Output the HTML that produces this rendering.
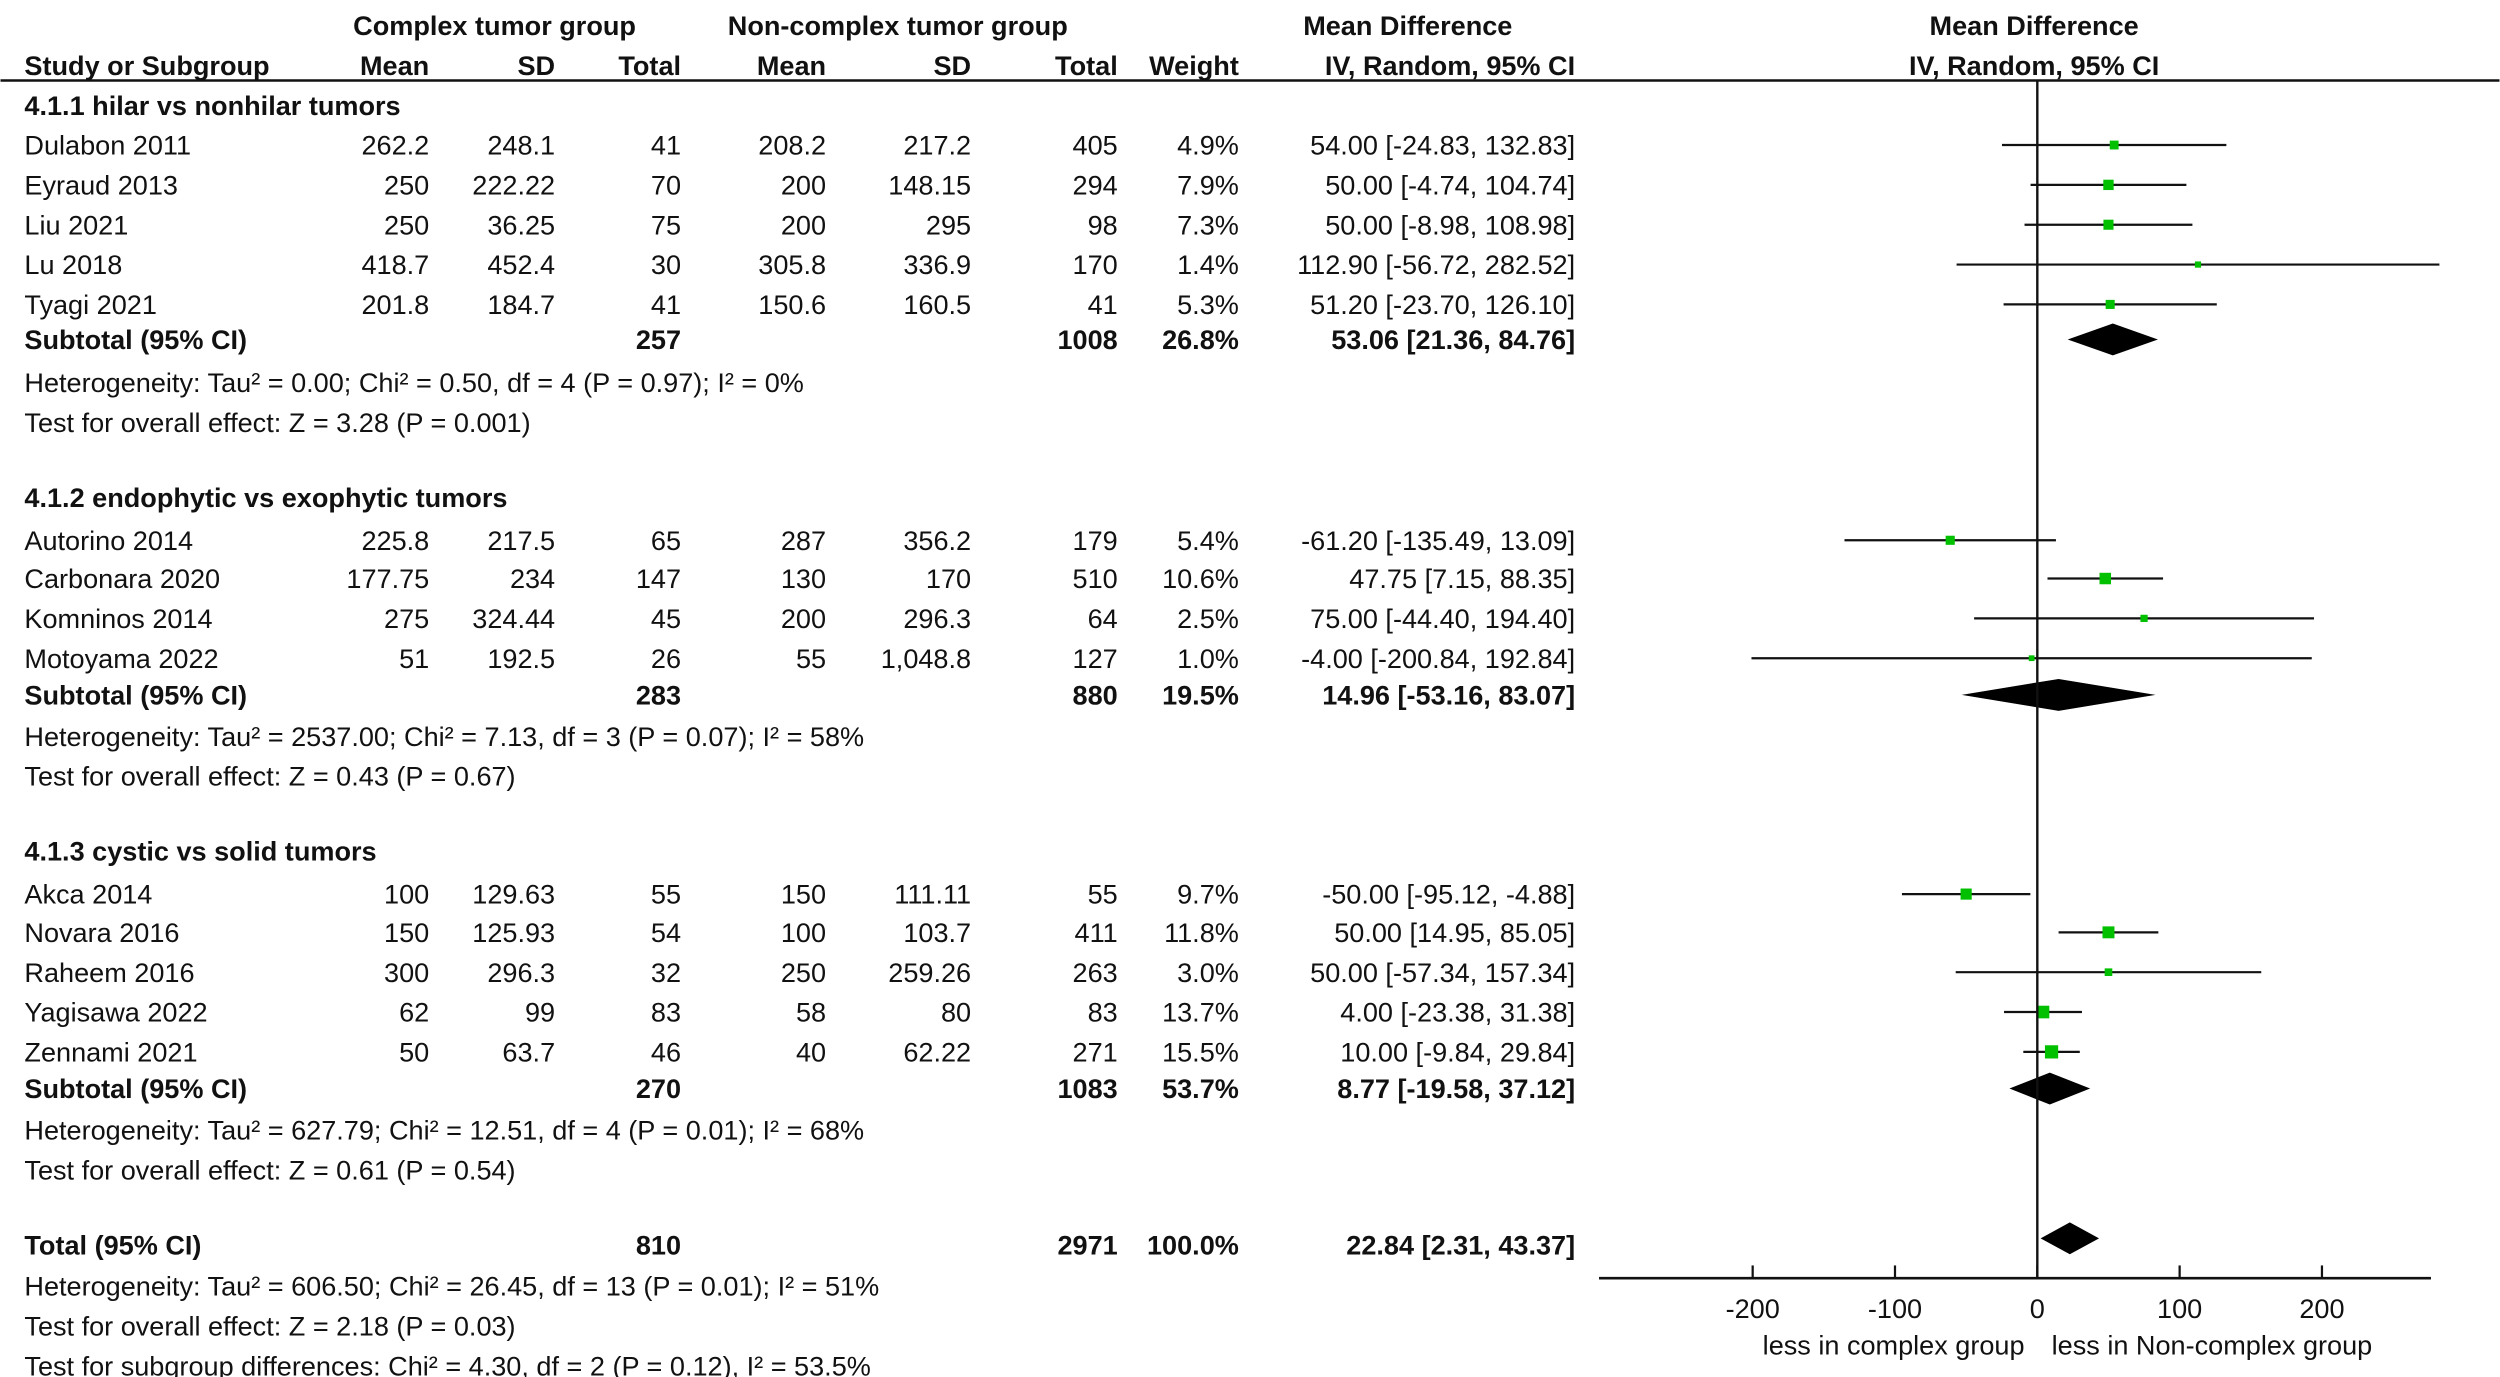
<!DOCTYPE html>
<html><head><meta charset="utf-8"><style>
html,body{margin:0;padding:0;background:#fff;}
svg{display:block;}
text{font-family:"Liberation Sans",Arial,sans-serif;font-size:17px;fill:#111;}
.b{font-weight:bold;}
</style></head><body>
<svg id="fp" width="2500" height="1377" viewBox="0 0 1568 864" xmlns="http://www.w3.org/2000/svg">
<g id="hdr">
<text class="b" x="310" y="22" text-anchor="middle">Complex tumor group</text>
<text class="b" x="563" y="22" text-anchor="middle">Non-complex tumor group</text>
<text class="b" x="883" y="22" text-anchor="middle">Mean Difference</text>
<text class="b" x="1276" y="22" text-anchor="middle">Mean Difference</text>
<text class="b" x="15" y="47">Study or Subgroup</text>
<text class="b" x="269" y="47" text-anchor="end">Mean</text>
<text class="b" x="348" y="47" text-anchor="end">SD</text>
<text class="b" x="427" y="47" text-anchor="end">Total</text>
<text class="b" x="518" y="47" text-anchor="end">Mean</text>
<text class="b" x="609" y="47" text-anchor="end">SD</text>
<text class="b" x="701" y="47" text-anchor="end">Total</text>
<text class="b" x="777" y="47" text-anchor="end">Weight</text>
<text class="b" x="988" y="47" text-anchor="end">IV, Random, 95% CI</text>
<text class="b" x="1276" y="47" text-anchor="middle">IV, Random, 95% CI</text>
</g>
<line x1="0" y1="50.5" x2="1568" y2="50.5" stroke="#111" stroke-width="1.6"/>
<g id="tbl"></g>
<g id="plot"></g>
</svg>
<script>
const studies=["Dulabon 2011","Eyraud 2013","Liu 2021","Lu 2018","Tyagi 2021","Autorino 2014","Carbonara 2020","Komninos 2014","Motoyama 2022","Akca 2014","Novara 2016","Raheem 2016","Yagisawa 2022","Zennami 2021"];
const meanC=["262.2","250","250","418.7","201.8","225.8","177.75","275","51","100","150","300","62","50"];
const sdC=["248.1","222.22","36.25","452.4","184.7","217.5","234","324.44","192.5","129.63","125.93","296.3","99","63.7"];
const nC=["41","70","75","30","41","65","147","45","26","55","54","32","83","46"];
const meanN=["208.2","200","200","305.8","150.6","287","130","200","55","150","100","250","58","40"];
const sdN=["217.2","148.15","295","336.9","160.5","356.2","170","296.3","1,048.8","111.11","103.7","259.26","80","62.22"];
const nN=["405","294","98","170","41","179","510","64","127","55","411","263","83","271"];
const weight=[4.9,7.9,7.3,1.4,5.3,5.4,10.6,2.5,1.0,9.7,11.8,3.0,13.7,15.5];
const md=[54.00,50.00,50.00,112.90,51.20,-61.20,47.75,75.00,-4.00,-50.00,50.00,50.00,4.00,10.00];
const lo=[-24.83,-4.74,-8.98,-56.72,-23.70,-135.49,7.15,-44.40,-200.84,-95.12,14.95,-57.34,-23.38,-9.84];
const hi=[132.83,104.74,108.98,282.52,126.10,13.09,88.35,194.40,192.84,-4.88,85.05,157.34,31.38,29.84];
const groupNames=["4.1.1 hilar vs nonhilar tumors","4.1.2 endophytic vs exophytic tumors","4.1.3 cystic vs solid tumors"];
const groupSize=[5,4,5];
const subNC=["257","283","270"];
const subNN=["1008","880","1083"];
const subW=[26.8,19.5,53.7];
const subMD=[53.06,14.96,8.77];
const subLo=[21.36,-53.16,-19.58];
const subHi=[84.76,83.07,37.12];
const subHet=["Heterogeneity: Tau² = 0.00; Chi² = 0.50, df = 4 (P = 0.97); I² = 0%","Heterogeneity: Tau² = 2537.00; Chi² = 7.13, df = 3 (P = 0.07); I² = 58%","Heterogeneity: Tau² = 627.79; Chi² = 12.51, df = 4 (P = 0.01); I² = 68%"];
const subTest=["Test for overall effect: Z = 3.28 (P = 0.001)","Test for overall effect: Z = 0.43 (P = 0.67)","Test for overall effect: Z = 0.61 (P = 0.54)"];
const totNC="810", totNN="2971";
const totMD=22.84, totLo=2.31, totHi=43.37;
const totLines=["Heterogeneity: Tau² = 606.50; Chi² = 26.45, df = 13 (P = 0.01); I² = 51%","Test for overall effect: Z = 2.18 (P = 0.03)","Test for subgroup differences: Chi² = 4.30, df = 2 (P = 0.12), I² = 53.5%"];
const ticks=[-200,-100,0,100,200];

const NS="http://www.w3.org/2000/svg";
const tbl=document.getElementById('tbl'), plot=document.getElementById('plot');
const X0=1278, PX=0.893;
function xs(v){return X0+v*PX;}
function el(tag,attrs,parent){const e=document.createElementNS(NS,tag);for(const k in attrs)e.setAttribute(k,attrs[k]);parent.appendChild(e);return e;}
function txt(s,x,y,anchor,bold,name){const t=el('text',{x:x,y:y,'text-anchor':anchor||'start'},tbl);if(bold)t.setAttribute('class','b');t.textContent=s;


return t;}
function fmt(v){return v.toFixed(2);}
const cols=[269,348,427,518,609,701,777,988];
const rowY=[[91,116,141,166,191],[339,363,388,413],[561,585,610,635,660]];
const headY=[66,312,534], subY=[213,436,683], hetY=[240,462,709], testY=[265,487,734];
let k=0;
for(let g=0;g<3;g++){
  txt(groupNames[g],15,headY[g]+6,'start',true,'subgroup-title');
  for(let r=0;r<groupSize[g];r++,k++){
    const y=rowY[g][r];
    txt(studies[k],15,y+6,'start',false,'study-name');
    txt(meanC[k],cols[0],y+6,'end',false,'mean-complex');
    txt(sdC[k],cols[1],y+6,'end',false,'sd-complex');
    txt(nC[k],cols[2],y+6,'end',false,'total-complex');
    txt(meanN[k],cols[3],y+6,'end',false,'mean-noncomplex');
    txt(sdN[k],cols[4],y+6,'end',false,'sd-noncomplex');
    txt(nN[k],cols[5],y+6,'end',false,'total-noncomplex');
    txt(weight[k].toFixed(1)+'%',cols[6],y+6,'end',false,'weight');
    txt(fmt(md[k])+' ['+fmt(lo[k])+', '+fmt(hi[k])+']',cols[7],y+6,'end',false,'mean-difference-ci');
    const ln=el('line',{x1:xs(lo[k]),x2:xs(hi[k]),y1:y,y2:y,stroke:'#111','stroke-width':1.4},plot);
    
    
    const s=2+Math.sqrt(weight[k])*1.6;
    const sq=el('rect',{x:xs(md[k])-s/2,y:y-s/2,width:s,height:s,fill:'#00c000'},plot);
    
    
  }
  const y=subY[g];
  txt('Subtotal (95% CI)',15,y+6,'start',true,'subtotal-label');
  txt(subNC[g],cols[2],y+6,'end',true,'subtotal-complex');
  txt(subNN[g],cols[5],y+6,'end',true,'subtotal-noncomplex');
  txt(subW[g].toFixed(1)+'%',cols[6],y+6,'end',true,'subtotal-weight');
  txt(fmt(subMD[g])+' ['+fmt(subLo[g])+', '+fmt(subHi[g])+']',cols[7],y+6,'end',true,'subtotal-ci');
  const d=el('polygon',{points:`${xs(subLo[g])},${y} ${xs(subMD[g])},${y-10} ${xs(subHi[g])},${y} ${xs(subMD[g])},${y+10}`,fill:'#000'},plot);
  
  
  txt(subHet[g],15,hetY[g]+6,'start',false,'heterogeneity-text');
  txt(subTest[g],15,testY[g]+6,'start',false,'overall-effect-text');
}
const ty=781;
txt('Total (95% CI)',15,ty+6,'start',true,'total-label');
txt(totNC,cols[2],ty+6,'end',true,'total-complex-n');
txt(totNN,cols[5],ty+6,'end',true,'total-noncomplex-n');
txt('100.0%',cols[6],ty+6,'end',true,'total-weight');
txt(fmt(totMD)+' ['+fmt(totLo)+', '+fmt(totHi)+']',cols[7],ty+6,'end',true,'total-ci');
const td=el('polygon',{points:`${xs(totLo)},${ty-4} ${xs(totMD)},${ty-14} ${xs(totHi)},${ty-4} ${xs(totMD)},${ty+6}`,fill:'#000'},plot);


[807,832,857].forEach((y,i)=>txt(totLines[i],15,y+6,'start',false,'total-stat-text'));
// axes
const vl=el('line',{x1:X0,x2:X0,y1:51,y2:802,stroke:'#111','stroke-width':1.5},plot);


const ax=el('line',{x1:1003,x2:1525,y1:802,y2:802,stroke:'#111','stroke-width':1.6},plot);


ticks.forEach(t=>{
  const tk=el('line',{x1:xs(t),x2:xs(t),y1:794,y2:802,stroke:'#111','stroke-width':1.4},plot);
  
  
  const lb=el('text',{x:xs(t),y:827,'text-anchor':'middle'},plot);
  lb.textContent=String(t);
  
  
});
const l1=el('text',{x:1270,y:850,'text-anchor':'end'},plot);l1.textContent='less in complex group';


const l2=el('text',{x:1287,y:850,'text-anchor':'start'},plot);l2.textContent='less in Non-complex group';


</script>
</body></html>
